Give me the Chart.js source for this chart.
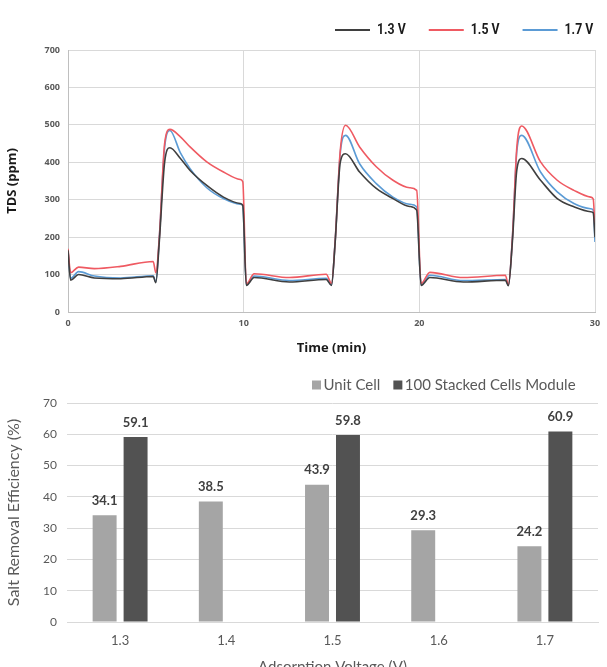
<!DOCTYPE html>
<html>
<head>
<meta charset="utf-8">
<script src="https://cdn.jsdelivr.net/npm/chart.js@4.4.1/dist/chart.umd.min.js"></script>
<style>
  html, body { margin: 0; padding: 0; background: #fff; overflow: hidden; }
  #top { position: absolute; left: 0; top: 0; width: 607px; height: 360px; }
  #bottom { position: absolute; left: 0; top: 360px; width: 607px; height: 320px; }
</style>
</head>
<body>
<div id="top"><canvas id="tdsChart"></canvas></div>
<div id="bottom"><canvas id="effChart"></canvas></div>
<script>
'use strict';

// TDS vs time
let timeMin = [0, 0.15, 0.6, 1.5, 3, 4.85, 5.0, 5.2, 5.5, 5.8, 6.4, 6.95, 7.9, 8.85, 9.8, 9.95,
  10.15, 10.6, 12.6, 14.7, 15.0, 15.2, 15.5, 15.8, 16.6, 17.55, 18.5, 19.45, 19.85,
  20.1, 20.6, 22.5, 24.9, 25.07, 25.3, 25.55, 25.83, 26.9, 27.85, 28.8, 29.75, 29.9, 30];
let tds13 = [165, 85, 100, 91, 89, 95, 78, 190, 400, 439, 410, 378, 338, 307, 290, 285,
  71, 92, 80, 87, 71, 180, 400, 423, 374, 330, 303, 282, 272,
  71, 92, 80, 85, 70, 190, 380, 410, 352, 303, 281, 268, 265, 200];
let tds15 = [169, 105, 120, 116, 122, 135, 105, 200, 450, 488, 468, 441, 401, 374, 354, 348,
  75, 102, 92, 101, 76, 183, 432, 499, 441, 388, 352, 332, 325,
  76, 106, 92, 98, 72, 200, 440, 497, 401, 352, 325, 307, 302, 218];
let tds17 = [165, 90, 108, 96, 91, 97, 80, 200, 440, 485, 425, 383, 332, 303, 288, 284,
  72, 96, 84, 90, 72, 183, 425, 472, 396, 343, 307, 288, 281,
  72, 98, 84, 87, 71, 200, 430, 472, 374, 321, 290, 276, 272, 187];

// salt removal efficiency
let voltages = ['1.3', '1.4', '1.5', '1.6', '1.7'];
let unitCell = [34.1, 38.5, 43.9, 29.3, 24.2];
let stackModule = [59.1, null, 59.8, null, 60.9];

function toPoints(values) {
  return timeMin.map((t, i) => ({ x: t, y: values[i] }));
}

function lineSet(label, values, color) {
  return {
    label: label,
    data: toPoints(values),
    borderColor: color,
    backgroundColor: color,
    borderWidth: 1.6,
    pointRadius: 0,
    cubicInterpolationMode: 'monotone'
  };
}

// line legend drawn by hand (narrow bold text, not flush right)
const lineLegend = {
  id: 'lineLegend',
  afterDraw(chart) {
    const ctx = chart.ctx;
    let x = 335;
    const y = 30;
    ctx.save();
    ctx.font = 'bold 15px Roboto';
    ctx.textBaseline = 'middle';
    chart.data.datasets.forEach((ds) => {
      ctx.strokeStyle = ds.borderColor;
      ctx.lineWidth = 1.8;
      ctx.beginPath();
      ctx.moveTo(x, y);
      ctx.lineTo(x + 35, y);
      ctx.stroke();
      x += 42;
      ctx.save();
      ctx.translate(x, y);
      ctx.scale(0.82, 1);
      ctx.fillStyle = '#1a1a1a';
      ctx.fillText(ds.label, 0, 0);
      ctx.restore();
      x += ctx.measureText(ds.label).width * 0.82 + 23;
    });
    ctx.restore();
  }
};

const boldFont = '"Open Sans", sans-serif';

new Chart(document.getElementById('tdsChart'), {
  type: 'line',
  data: {
    datasets: [
      lineSet('1.3 V', tds13, '#3f3f3f'),
      lineSet('1.5 V', tds15, '#ef5a62'),
      lineSet('1.7 V', tds17, '#5b9bd5')
    ]
  },
  options: {
    responsive: true,
    maintainAspectRatio: false,
    animation: false,
    layout: { padding: { left: 0, right: 12, top: 50, bottom: 0 } },
    plugins: {
      tooltip: { enabled: false },
      legend: { display: false }
    },
    scales: {
      x: {
        type: 'linear',
        min: 0,
        max: 30,
        ticks: { stepSize: 10, color: '#595959', font: { family: boldFont, weight: 'bold', size: 9 }, padding: 6 },
        grid: { color: '#d9d9d9', drawTicks: false },
        border: { color: '#bfbfbf' },
        title: { display: true, text: 'Time (min)', color: '#1a1a1a', font: { family: boldFont, weight: 'bold', size: 13 }, padding: { top: 6 } },
        afterFit: (scale) => { scale.height = 48; }
      },
      y: {
        min: 0,
        max: 700,
        ticks: { stepSize: 100, color: '#595959', font: { family: boldFont, weight: 'bold', size: 9 }, padding: 8 },
        grid: { color: '#d9d9d9', drawTicks: false },
        border: { color: '#bfbfbf' },
        title: { display: true, text: 'TDS (ppm)', color: '#1a1a1a', font: { family: boldFont, weight: 'bold', size: 13 } },
        afterFit: (scale) => { scale.width = 68; }
      }
    }
  },
  plugins: [lineLegend]
});

// value labels over the bars
const barLabels = {
  id: 'barLabels',
  afterDatasetsDraw(chart) {
    const ctx = chart.ctx;
    ctx.save();
    ctx.font = 'bold 13px Lato';
    ctx.fillStyle = '#404040';
    ctx.textAlign = 'center';
    ctx.textBaseline = 'bottom';
    chart.data.datasets.forEach((ds, i) => {
      chart.getDatasetMeta(i).data.forEach((bar, j) => {
        if (ds.data[j] == null) return;
        ctx.fillText(ds.data[j].toFixed(1), bar.x, bar.y - 8);
      });
    });
    ctx.restore();
  }
};

// square legend for the bars
const barLegend = {
  id: 'barLegend',
  afterDraw(chart) {
    const ctx = chart.ctx;
    let x = 312;
    const y = 25;
    ctx.save();
    ctx.font = '15px Lato';
    ctx.textBaseline = 'middle';
    chart.data.datasets.forEach((ds) => {
      ctx.fillStyle = ds.backgroundColor;
      ctx.fillRect(x, y - 4.5, 9, 9);
      x += 11.5;
      ctx.fillStyle = '#595959';
      ctx.fillText(ds.label, x, y);
      x += ctx.measureText(ds.label).width + 13;
    });
    ctx.restore();
  }
};

new Chart(document.getElementById('effChart'), {
  type: 'bar',
  data: {
    labels: voltages,
    datasets: [{
      label: 'Unit Cell',
      data: unitCell,
      backgroundColor: '#a5a5a5',
      barPercentage: 0.774,
      categoryPercentage: 0.583
    },
    {
      label: '100 Stacked Cells Module',
      data: stackModule,
      backgroundColor: '#525252',
      barPercentage: 0.774,
      categoryPercentage: 0.583
    }]
  },
  options: {
    responsive: true,
    maintainAspectRatio: false,
    animation: false,
    layout: { padding: { left: 0, right: 9, top: 43, bottom: 0 } },
    plugins: {
      tooltip: { enabled: false },
      legend: { display: false }
    },
    scales: {
      x: {
        ticks: { color: '#595959', font: { family: 'Lato', size: 13 }, padding: 3 },
        grid: { display: false },
        border: { color: '#d9d9d9' },
        title: { display: true, text: 'Adsorption Voltage (V)', color: '#595959', font: { family: 'Lato', size: 15 }, padding: { top: 4, bottom: 4 } },
        afterFit: (scale) => { scale.height = 58; }
      },
      y: {
        min: 0,
        max: 70,
        ticks: { stepSize: 10, color: '#595959', font: { family: 'Lato', size: 12 }, padding: 10 },
        grid: { color: '#d9d9d9', drawTicks: false },
        border: { display: false },
        title: { display: true, text: 'Salt Removal Efficiency (%)', color: '#595959', font: { family: 'Lato', size: 16 } },
        afterFit: (scale) => { scale.width = 67; }
      }
    }
  },
  plugins: [barLabels, barLegend]
});
</script>
</body>
</html>
